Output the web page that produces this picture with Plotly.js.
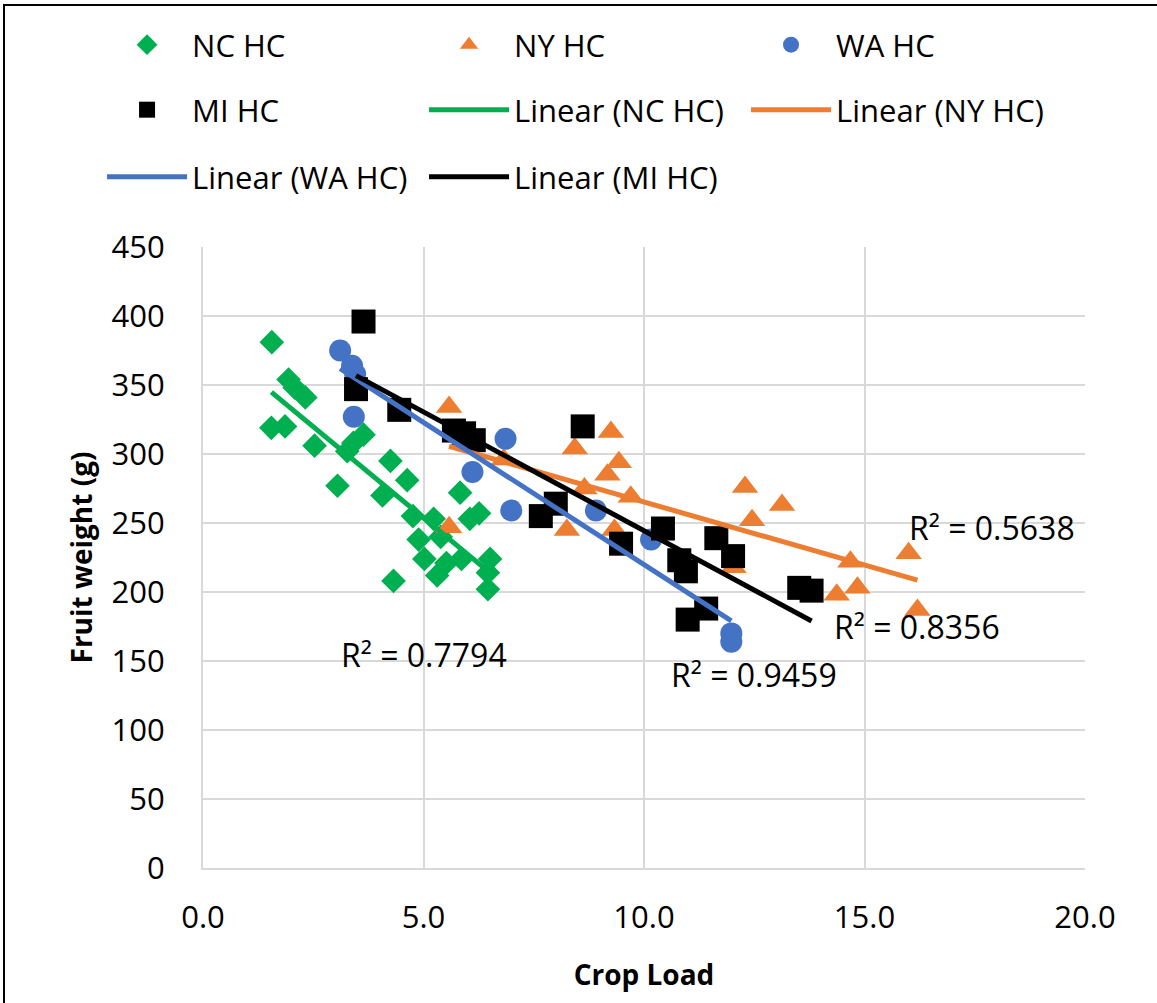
<!DOCTYPE html>
<html>
<head>
<meta charset="utf-8">
<script src="https://cdn.plot.ly/plotly-3.0.1.min.js"></script>
<style>
html,body{margin:0;padding:0;background:#fff;overflow:hidden;}
#chart{position:absolute;left:0;top:0;width:1157px;height:1003px;}
#frame{position:absolute;left:3px;top:4px;width:1170px;height:1020px;border-left:2px solid #000;border-top:2px solid #000;pointer-events:none;}
</style>
</head>
<body>
<div id="chart"></div>
<div id="frame"></div>
<script>
// ---- data (crop load vs fruit weight) ----
const ncName = "NC HC";
const ncX = [1.56,1.94,2.08,2.32,1.55,1.86,2.53,3.27,3.41,3.64,4.25,4.63,3.05,4.07,4.76,5.83,6.05,6.26,5.23,4.89,5.39,5.02,4.32,5.52,5.31,5.86,6.51,6.46,6.46];
const ncY = [381,354,348,341,319,320,306,302,308,314,295,281,277,270,255,272,253,257,253,238,240,224,208,221,212,224,224,214,202];

const nyName = "NY HC";
const nyX = [5.58,5.58,6.82,8.25,8.43,8.65,9.17,9.25,9.33,9.43,9.70,12.03,12.29,12.45,13.13,14.37,14.68,14.84,16.00,16.20];
const nyY = [334,247,296,245,304,275,285,316,245,294,269,218,276,252,263,198,222,203,228,187];

const waName = "WA HC";
const waX = [3.11,3.38,3.45,3.42,6.86,6.11,6.99,8.91,10.16,11.98,11.98];
const waY = [375,364,358,327,311,287,259,259,238,170,164];

const miName = "MI HC";
const miX = [3.64,3.47,4.45,5.69,5.92,6.14,8.61,8.00,7.66,10.43,9.48,11.64,12.02,10.80,10.95,11.41,10.99,13.52,13.80];
const miY = [396,347,332,317,315,310,320,264,255,246,235,239,226,223,215,188,180,203,201];

const r2Labels = ["R² = 0.7794","R² = 0.5638","R² = 0.9459","R² = 0.8356"];
const r2X = [5.0,17.9,12.5,16.2];
const r2Y = [155,247,140,175];

const xTitle = "Crop Load";
const yTitle = "Fruit weight (g)";

// ---- helpers ----
function fit(x, y){
  const n = x.length;
  let sx=0, sy=0, sxx=0, sxy=0;
  for(let i=0;i<n;i++){sx+=x[i];sy+=y[i];sxx+=x[i]*x[i];sxy+=x[i]*y[i];}
  const b = (n*sxy - sx*sy)/(n*sxx - sx*sx);
  const a = (sy - b*sx)/n;
  const x0 = Math.min(...x), x1 = Math.max(...x);
  return {x:[x0,x1], y:[a+b*x0, a+b*x1]};
}

const green = "#00B050", orange = "#ED7D31", blue = "#4472C4", black = "#000000";
const FONT = "Open Sans, Liberation Sans, sans-serif";

function pts(name, x, y, symbol, color, size, legend){
  return {type:"scatter", mode:"markers", name:name, x:x, y:y, legend:legend,
    marker:{symbol:symbol, color:color, size:size, line:{width:0}}, hoverinfo:"skip"};
}
function trend(name, x, y, color, legend){
  const f = fit(x, y);
  return {type:"scatter", mode:"lines", name:"Linear (" + name + ")", x:f.x, y:f.y, legend:legend,
    line:{color:color, width:5}, hoverinfo:"skip"};
}

// one legend entry per legend box, laid out as Excel's 3-column grid
const traces = [
  pts(ncName, ncX, ncY, "diamond", green, 19, "legend"),
  pts(nyName, nyX, nyY, "triangle-up", orange, 23, "legend2"),
  pts(waName, waX, waY, "circle", blue, 22, "legend3"),
  pts(miName, miX, miY, "square", black, 24, "legend4"),
  trend(ncName, ncX, ncY, green, "legend5"),
  trend(nyName, nyX, nyY, orange, "legend6"),
  trend(waName, waX, waY, blue, "legend7"),
  trend(miName, miX, miY, black, "legend8")
];

const annotations = r2Labels.map((t,i)=>({x:r2X[i], y:r2Y[i], xref:"x", yref:"y", text:t, showarrow:false,
  xanchor:"center", yanchor:"middle", font:{family:FONT, size:32, color:"#000"}}));

const colX = [0.0882, 0.3665, 0.6448];
const rowY = [0.9551, 0.8903, 0.8235];
function legendCfg(col, row){
  return {orientation:"h", xref:"container", yref:"container", x:colX[col], xanchor:"left", y:rowY[row], yanchor:"middle",
    itemwidth:80, bgcolor:"rgba(0,0,0,0)",
    font:{family:FONT, size:31, color:"#000"}, itemclick:false, itemdoubleclick:false};
}

const layout = {
  width:1157, height:1003,
  margin:{l:203, r:72, t:247, b:135, pad:0, autoexpand:false},
  paper_bgcolor:"#fff", plot_bgcolor:"#fff",
  font:{family:FONT, color:"#000"},
  showlegend:true,
  legend:legendCfg(0,0),
  legend2:legendCfg(1,0),
  legend3:legendCfg(2,0),
  legend4:legendCfg(0,1),
  legend5:legendCfg(1,1),
  legend6:legendCfg(2,1),
  legend7:legendCfg(0,2),
  legend8:legendCfg(1,2),
  xaxis:{range:[0,20], dtick:5, tick0:0, tickformat:".1f", showgrid:true, gridcolor:"#d9d9d9", gridwidth:2,
    showline:true, linecolor:"#d9d9d9", linewidth:2, zeroline:false, ticks:"", ticklabelstandoff:21,
    automargin:false,
    tickfont:{family:FONT, size:31, color:"#000"},
    title:{text:xTitle, standoff:29, font:{family:FONT, size:28, color:"#000", weight:"bold"}}},
  yaxis:{range:[0,450], dtick:50, tick0:0, showgrid:true, gridcolor:"#d9d9d9", gridwidth:2,
    showline:true, linecolor:"#d9d9d9", linewidth:2, zeroline:false, ticks:"", ticklabelstandoff:30,
    automargin:false,
    tickfont:{family:FONT, size:31, color:"#000"},
    title:{text:yTitle, standoff:11, font:{family:FONT, size:28, color:"#000", weight:"bold"}}},
  annotations:annotations
};

Plotly.newPlot("chart", traces, layout, {staticPlot:true, displayModeBar:false});
</script>
</body>
</html>
